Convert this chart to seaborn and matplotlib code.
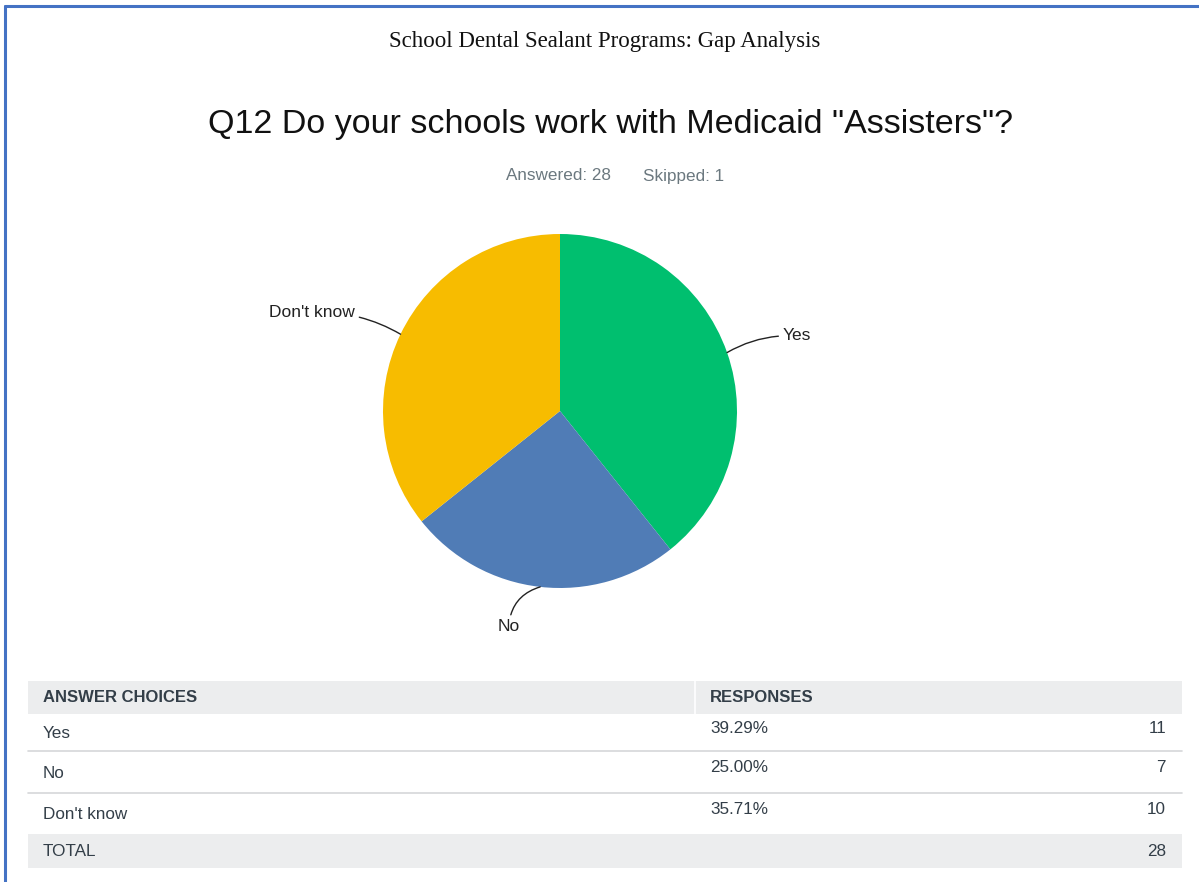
import matplotlib
matplotlib.use("Agg")
import numpy as np
import matplotlib.pyplot as plt
import seaborn as sb
from matplotlib.patches import Rectangle
from matplotlib.lines import Line2D

# survey data
choices = ["Yes", "No", "Don't know"]
counts = [11, 7, 10]
percents = ["39.29%", "25.00%", "35.71%"]
total = 28
answered = 28
skipped = 1
colors = ["#00BF6F", "#507CB6", "#F7BC00"]

sb.set_theme(style="white")
plt.rcParams['font.family'] = ['Liberation Sans', 'DejaVu Sans']

W, H = 1199, 882
fig = plt.figure(figsize=(W / 100, H / 100), dpi=100)
fig.patch.set_facecolor("white")

# overlay in pixel coords for text / table
bg = fig.add_axes([0, 0, 1, 1])
bg.set_xlim(0, W)
bg.set_ylim(H, 0)
bg.axis("off")

# blue frame (top and left)
bg.add_line(Line2D([5, W], [6, 6], color="#4472C4", lw=2.2))
bg.add_line(Line2D([5, 5], [6, H], color="#4472C4", lw=2.2))

bg.text(605, 42, "School Dental Sealant Programs: Gap Analysis", family="Liberation Serif",
        fontsize=16.5, ha="center", va="center", color="#111111")
bg.text(610, 124, 'Q12 Do your schools work with Medicaid "Assisters"?', fontsize=24.5,
        ha="center", va="center", color="#111111")
bg.text(506, 176, "Answered: %d" % answered, fontsize=12.3, ha="left", va="center", color="#6B787F")
bg.text(643, 176, "Skipped: %d" % skipped, fontsize=12.3, ha="left", va="center", color="#6B787F")

# pie
cx, cy, r = 560, 411, 177
half = 200
ax = fig.add_axes([(cx - half) / W, (H - cy - half) / H, 2 * half / W, 2 * half / H])
ax.pie(counts, colors=colors, startangle=90, counterclock=False, radius=1,
       wedgeprops=dict(linewidth=0))
lim = half / r
ax.set_xlim(-lim, lim)
ax.set_ylim(-lim, lim)
ax.set_aspect("equal")
ax.axis("off")

# leader labels
lab_pos = [(1.26, 0.424), (-0.226, -1.22), (-1.16, 0.555)]
lab_ha = ["left", "right", "right"]
rads = [0.15, -0.35, -0.15]
ang = 90
for i, c in enumerate(counts):
    frac = c / sum(counts) * 360
    mid = np.deg2rad(ang - frac / 2)
    ang -= frac
    px, py = np.cos(mid), np.sin(mid)
    tx, ty = lab_pos[i]
    ax.annotate(choices[i], xy=(px, py), xytext=(tx, ty), ha=lab_ha[i], va="center",
                fontsize=12.5, color="#222222",
                arrowprops=dict(arrowstyle="-", color="#222222", lw=1.0,
                                connectionstyle="arc3,rad=%s" % rads[i],
                                shrinkA=1, shrinkB=0))

# table
x0, x1, xdiv = 28, 1182, 695
grey = "#ECEDEE"
txt = "#333E48"
bg.add_patch(Rectangle((x0, 681), x1 - x0, 33, color=grey, lw=0))
bg.add_line(Line2D([xdiv, xdiv], [681, 714], color="white", lw=1.2))
bg.text(43, 697, "ANSWER CHOICES", fontsize=12, weight="bold", va="center", color=txt)
bg.text(710, 697, "RESPONSES", fontsize=12, weight="bold", va="center", color=txt)

row_top = [714, 751, 793]
row_bot = [751, 793, 834]
for i in range(len(choices)):
    mid = (row_top[i] + row_bot[i]) / 2
    bg.text(43, mid + 1, choices[i], fontsize=12.3, va="center", color=txt)
    bg.text(710, mid - 4, percents[i], fontsize=12.3, va="center", color=txt)
    bg.text(1166, mid - 4, str(counts[i]), fontsize=12.3, va="center", ha="right", color=txt)
    if i < len(choices) - 1:
        bg.add_line(Line2D([x0, x1], [row_bot[i], row_bot[i]], color="#D5D7D9", lw=1.2))

bg.add_patch(Rectangle((x0, 834), x1 - x0, 34, color=grey, lw=0))
bg.text(43, 851, "TOTAL", fontsize=12.3, va="center", color=txt)
bg.text(1166, 851, str(total), fontsize=12.3, va="center", ha="right", color=txt)

fig.savefig("out.png", dpi=100)
